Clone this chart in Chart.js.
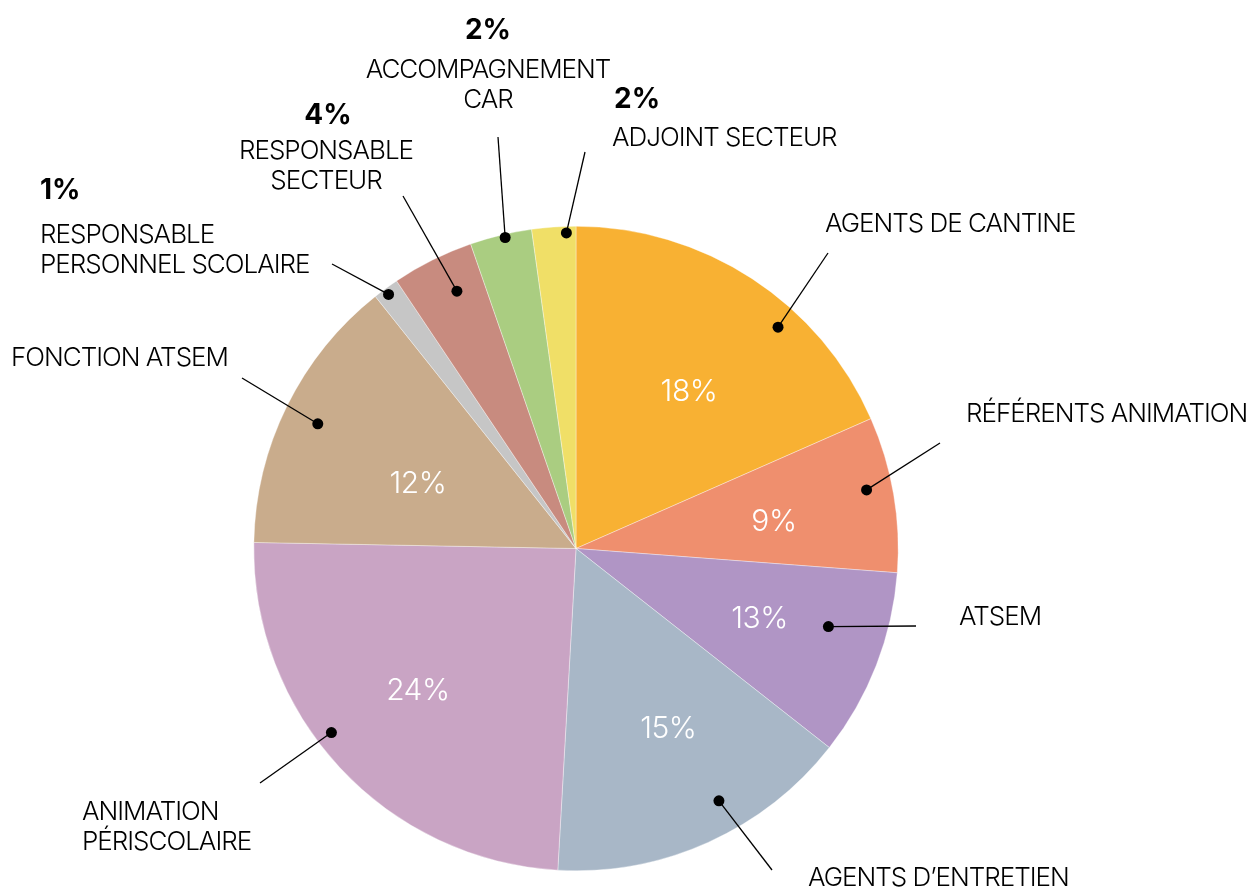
<!DOCTYPE html>
<html>
<head>
<meta charset="utf-8">
<script src="https://cdn.jsdelivr.net/npm/chart.js@4"></script>
<style>
  html, body { margin: 0; padding: 0; background: #fff; }
  #wrap { width: 1251px; height: 891px; position: relative; }
</style>
</head>
<body>
<div id="wrap"><canvas id="pie-chart"></canvas></div>
<script>
// categories, in clockwise order from 12 o'clock
let categories = [
  "AGENTS DE CANTINE",
  "RÉFÉRENTS ANIMATION",
  "ATSEM",
  "AGENTS D’ENTRETIEN",
  "ANIMATION PÉRISCOLAIRE",
  "FONCTION ATSEM",
  "RESPONSABLE PERSONNEL SCOLAIRE",
  "RESPONSABLE SECTEUR",
  "ACCOMPAGNEMENT CAR",
  "ADJOINT SECTEUR",
];

// slice sizes (in %)
let values = [18.4, 7.8, 9.4, 15.3, 24.4, 14.0, 1.3, 4.1, 3.1, 2.2];

// percentages printed on the picture
let percentLabels = ["18%", "9%", "13%", "15%", "24%", "12%", "1%", "4%", "2%", "2%"];

let colors = [
  "#F8B133",
  "#EF8F6E",
  "#B095C5",
  "#A8B7C7",
  "#C9A4C4",
  "#C9AC8C",
  "#C6C6C6",
  "#C88B7F",
  "#AACD81",
  "#F0DF67",
];

// where the label goes for each slice
// inner: percent printed inside the slice (t = fraction along the arc, r = fraction of radius)
// dot: anchor of the leader line, end: other end of the line, text: label block
let labelLayout = [
  { inner: { t: 0.54, r: 0.60 }, dot: { t: 0.64, r: 0.93 }, end: [828, 253], lines: ["AGENTS DE CANTINE"], x: 825, y: 224, align: "left" },
  { inner: { t: 0.57, r: 0.62 }, dot: { t: 0.44, r: 0.92 }, end: [940, 443], lines: ["RÉFÉRENTS ANIMATION"], x: 966, y: 414, align: "left" },
  { inner: { t: 0.49, r: 0.61 }, dot: { t: 0.38, r: 0.82 }, end: [916, 626], lines: ["ATSEM"], x: 959, y: 617, align: "left" },
  { inner: { t: 0.45, r: 0.63 }, dot: { t: 0.405, r: 0.90 }, end: [772, 870], lines: ["AGENTS D’ENTRETIEN"], x: 808, y: 878, align: "left" },
  { inner: { t: 0.51, r: 0.66 }, dot: { t: 0.567, r: 0.95 }, end: [260, 783], lines: ["ANIMATION", "PÉRISCOLAIRE"], x: 82, y: 812, align: "left" },
  { inner: { t: 0.42, r: 0.53 }, dot: { t: 0.49, r: 0.89 }, end: [242, 378], lines: ["FONCTION ATSEM"], x: 11, y: 358, align: "left" },
  { outerPct: [40, 191], dot: { t: 0.45, r: 0.98 }, end: [332, 264], lines: ["RESPONSABLE", "PERSONNEL SCOLAIRE"], x: 40, y: 235, align: "left" },
  { outerPct: [328, 116], dot: { t: 0.61, r: 0.88 }, end: [403, 196], lines: ["RESPONSABLE", "SECTEUR"], x: 326, y: 151, align: "center" },
  { outerPct: [488, 31], dot: { t: 0.56, r: 0.99 }, end: [498, 137], lines: ["ACCOMPAGNEMENT", "CAR"], x: 488, y: 70, align: "center" },
  { outerPct: [614, 100], dot: { t: 0.78, r: 0.98 }, end: [585, 152], lines: ["ADJOINT SECTEUR"], x: 612, y: 138, align: "left" },
];

function pointOnArc(arc, t, rf) {
  let a = arc.startAngle + (arc.endAngle - arc.startAngle) * t;
  let r = arc.outerRadius * rf;
  return [arc.x + Math.cos(a) * r, arc.y + Math.sin(a) * r];
}

let labelsPlugin = {
  id: "pieLabels",
  afterDraw(chart) {
    let ctx = chart.ctx;
    let arcs = chart.getDatasetMeta(0).data;
    ctx.save();
    ctx.textBaseline = "middle";

    arcs.forEach((arc, i) => {
      let lay = labelLayout[i];

      // percent inside the slice
      if (lay.inner) {
        let p = pointOnArc(arc, lay.inner.t, lay.inner.r);
        ctx.fillStyle = "#fff";
        ctx.font = "300 30px Inter";
        ctx.letterSpacing = "-0.5px";
        ctx.textAlign = "center";
        ctx.fillText(percentLabels[i], p[0], p[1]);
        ctx.letterSpacing = "0px";
      }

      // leader line with a dot
      let d = pointOnArc(arc, lay.dot.t, lay.dot.r);
      ctx.strokeStyle = "#000";
      ctx.lineWidth = 1.3;
      ctx.beginPath();
      ctx.moveTo(d[0], d[1]);
      ctx.lineTo(lay.end[0], lay.end[1]);
      ctx.stroke();
      ctx.fillStyle = "#000";
      ctx.beginPath();
      ctx.arc(d[0], d[1], 5.5, 0, Math.PI * 2);
      ctx.fill();

      // bold percent above the small ones
      if (lay.outerPct) {
        ctx.font = "700 28px Inter";
        ctx.textAlign = lay.align;
        ctx.fillText(percentLabels[i], lay.outerPct[0], lay.outerPct[1]);
      }

      ctx.font = "300 26px Inter";
      ctx.letterSpacing = "-1px";
      ctx.textAlign = lay.align;
      lay.lines.forEach((line, k) => {
        ctx.fillText(line, lay.x, lay.y + k * 30);
      });
      ctx.letterSpacing = "0px";
    });
    ctx.restore();
  },
};

new Chart(document.getElementById("pie-chart"), {
  type: "pie",
  data: {
    labels: categories,
    datasets: [
      {
        data: values,
        backgroundColor: colors,
        borderColor: "rgba(255,255,255,0.6)",
        borderWidth: 0.6,
      },
    ],
  },
  options: {
    responsive: true,
    maintainAspectRatio: false,
    animation: false,
    layout: {
      padding: { top: 226, bottom: 20, left: 0, right: 99 },
    },
    plugins: {
      legend: { display: false },
      tooltip: { enabled: false },
    },
  },
  plugins: [labelsPlugin],
});
</script>
</body>
</html>
